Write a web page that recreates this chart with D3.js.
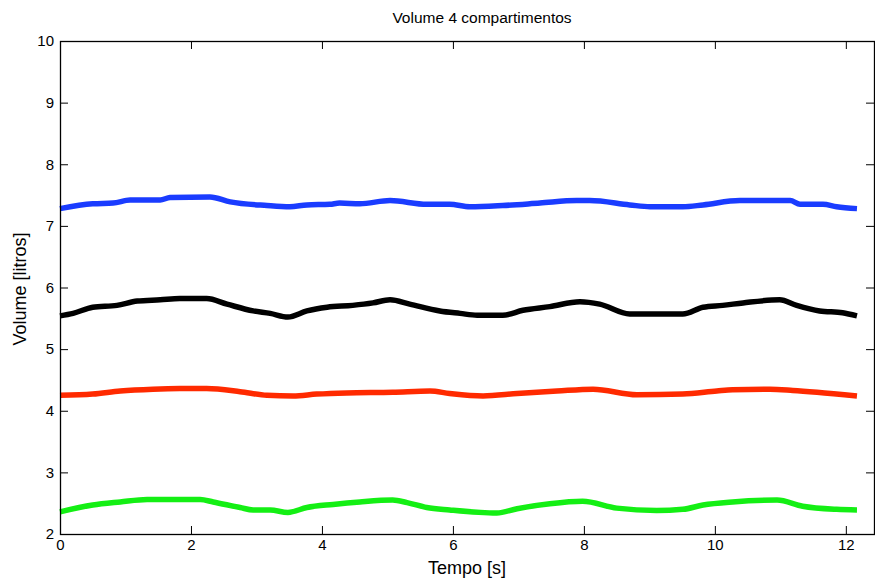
<!DOCTYPE html>
<html>
<head>
<meta charset="utf-8">
<script src="https://cdn.jsdelivr.net/npm/d3@7"></script>
<style>
  body { margin: 0; background: #fff; }
  svg { font-family: "Liberation Sans", Arial, sans-serif; }
</style>
</head>
<body>
<svg id="chart" width="875" height="582"></svg>
<script>
// series: [time s, volume litros]
var blueSeries = [[0,7.28],[0.5,7.36],[0.81,7.37],[1.07,7.42],[1.53,7.42],[1.68,7.46],[2.29,7.47],[2.6,7.39],
  [3.16,7.33],[3.51,7.31],[3.77,7.34],[4.12,7.35],[4.27,7.37],[4.58,7.36],[5.04,7.41],[5.6,7.35],[5.95,7.35],
  [6.26,7.31],[6.76,7.33],[7.33,7.37],[7.89,7.41],[8.09,7.41],[8.7,7.34],[9.01,7.31],[9.51,7.31],[9.82,7.34],
  [10.38,7.41],[11.15,7.41],[11.3,7.35],[11.65,7.35],[11.86,7.31],[12.17,7.28]];
var blackSeries = [[0,5.54],[0.2,5.58],[0.5,5.68],[0.87,5.71],[1.18,5.78],[1.53,5.8],[1.83,5.82],[2.24,5.82],
  [2.55,5.73],[2.95,5.62],[3.21,5.58],[3.48,5.52],[3.77,5.62],[4.08,5.68],[4.47,5.71],[4.78,5.75],[5.04,5.8],
  [5.34,5.73],[5.8,5.62],[6.11,5.58],[6.37,5.55],[6.76,5.55],[7.07,5.63],[7.48,5.69],[7.94,5.77],[8.24,5.73],
  [8.7,5.57],[9.51,5.57],[9.82,5.68],[10.12,5.71],[10.43,5.75],[10.99,5.8],[11.25,5.71],[11.6,5.62],[11.95,5.59],
  [12.17,5.54]];
var redSeries = [[0,4.25],[0.5,4.27],[0.92,4.32],[1.42,4.35],[1.83,4.36],[2.24,4.36],[2.75,4.31],[3.16,4.25],
  [3.56,4.24],[3.92,4.27],[4.38,4.29],[5.08,4.3],[5.65,4.32],[5.95,4.28],[6.46,4.24],[6.98,4.28],
  [7.59,4.32],[8.14,4.35],[8.81,4.26],[9.51,4.27],[10.03,4.32],[10.27,4.34],[10.84,4.35],
  [11.19,4.33],[11.56,4.3],[12.17,4.24]];
var greenSeries = [[0,2.36],[0.5,2.47],[0.92,2.52],[1.33,2.56],[2.14,2.56],[2.34,2.52],[2.75,2.43],[2.95,2.39],
  [3.21,2.39],[3.48,2.35],[3.77,2.43],[4.17,2.48],[4.58,2.52],[5.08,2.55],[5.3,2.51],[5.6,2.43],[5.95,2.39],
  [6.67,2.34],[6.98,2.41],[7.48,2.49],[7.98,2.53],[8.5,2.42],[9.11,2.38],[9.51,2.4],[9.82,2.47],[10.27,2.52],
  [10.95,2.55],[11.34,2.45],[11.86,2.4],[12.17,2.39]];

var seriesList = [
  { data: blueSeries, color: "#1a3cff" },
  { data: blackSeries, color: "#000000" },
  { data: redSeries, color: "#ff2a00" },
  { data: greenSeries, color: "#14ef14" }
];

var xTicks = [0, 2, 4, 6, 8, 10, 12];
var yTicks = [2, 3, 4, 5, 6, 7, 8, 9, 10];

var mLeft = 60, mTop = 41, mRight = 874, mBottom = 534;

var svg = d3.select("#chart");

var x = d3.scaleLinear().domain([0, 12.43]).range([mLeft, mRight]);
var y = d3.scaleLinear().domain([2, 10]).range([mBottom, mTop]);

var tickLen = 8;

// curves
var line = d3.line()
  .x(function (d) { return x(d[0]); })
  .y(function (d) { return y(d[1]); })
  .curve(d3.curveMonotoneX);

svg.selectAll("path.serie")
  .data(seriesList)
  .enter()
  .append("path")
  .attr("class", "serie")
  .attr("d", function (s) { return line(s.data); })
  .attr("fill", "none")
  .attr("stroke", function (s) { return s.color; })
  .attr("stroke-width", 5.5)
  .attr("stroke-linejoin", "round");

// axes, ticks pointing inward on all four sides
var xBottom = d3.axisBottom(x).tickValues(xTicks).tickSizeInner(-tickLen).tickSizeOuter(0).tickPadding(5);
var xTop = d3.axisTop(x).tickValues(xTicks).tickSizeInner(-tickLen).tickSizeOuter(0).tickFormat("");
var yLeft = d3.axisLeft(y).tickValues(yTicks).tickSizeInner(-tickLen).tickSizeOuter(0).tickPadding(6);
var yRight = d3.axisRight(y).tickValues(yTicks).tickSizeInner(-tickLen).tickSizeOuter(0).tickFormat("");

function styleAxis(g) {
  g.select(".domain").remove();
  g.selectAll("line").attr("stroke", "#000").attr("stroke-width", 1);
  g.selectAll("text").attr("fill", "#000").style("font-size", "15px")
    .style("font-family", "'Liberation Sans', Arial, sans-serif");
}

svg.append("g").attr("transform", "translate(0," + mBottom + ")").call(xBottom).call(styleAxis);
svg.append("g").attr("transform", "translate(0," + mTop + ")").call(xTop).call(styleAxis);
svg.append("g").attr("transform", "translate(" + mLeft + ",0)").call(yLeft).call(styleAxis);
svg.append("g").attr("transform", "translate(" + mRight + ",0)").call(yRight).call(styleAxis);

// box
svg.append("rect")
  .attr("x", mLeft + 0.5)
  .attr("y", mTop + 0.5)
  .attr("width", mRight - mLeft)
  .attr("height", mBottom - mTop)
  .attr("fill", "none")
  .attr("stroke", "#000")
  .attr("stroke-width", 1.3);

// labels
svg.append("text")
  .attr("x", 482)
  .attr("y", 23)
  .attr("text-anchor", "middle")
  .style("font-size", "15.5px")
  .text("Volume 4 compartimentos");

svg.append("text")
  .attr("x", 467)
  .attr("y", 574)
  .attr("text-anchor", "middle")
  .style("font-size", "18px")
  .text("Tempo [s]");

svg.append("text")
  .attr("transform", "translate(26," + 289 + ") rotate(-90)")
  .attr("text-anchor", "middle")
  .style("font-size", "18px")
  .text("Volume [litros]");
</script>
</body>
</html>
